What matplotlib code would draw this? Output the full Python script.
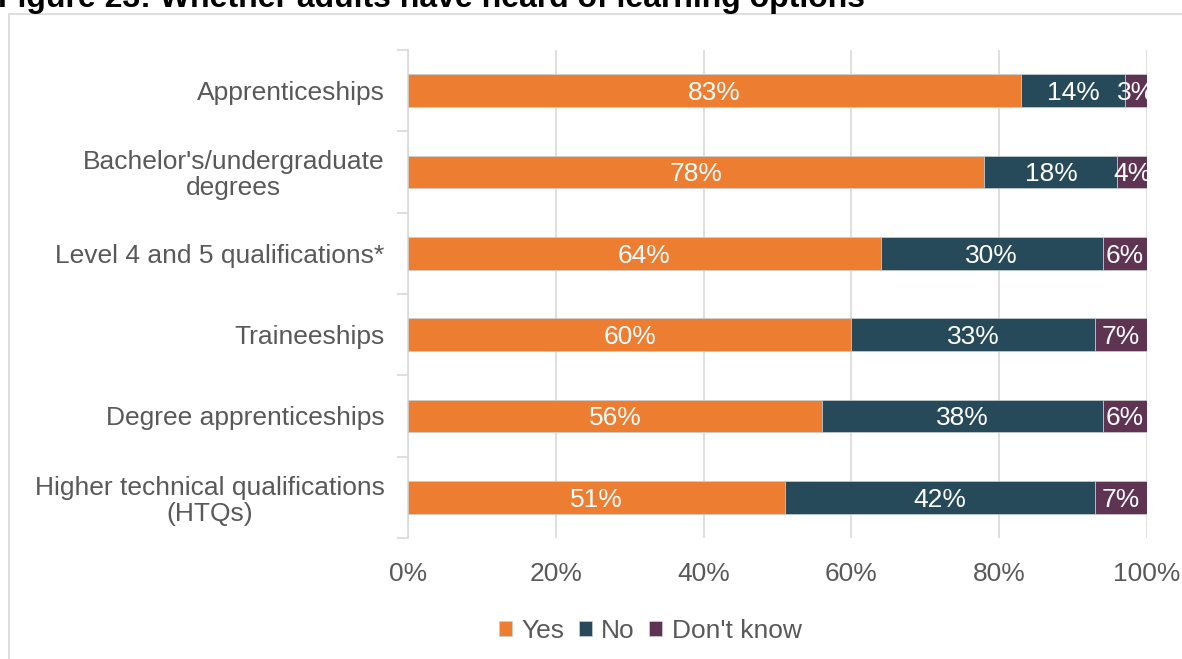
import matplotlib.pyplot as plt
from matplotlib.patches import Rectangle
import numpy as np

plt.rcParams['font.family'] = ['Liberation Sans', 'DejaVu Sans']

# learning options, top to bottom
categories = ["Apprenticeships", "Bachelor's/undergraduate\ndegrees",
              "Level 4 and 5 qualifications*", "Traineeships",
              "Degree apprenticeships", "Higher technical qualifications\n(HTQs)"]
yes = [83, 78, 64, 60, 56, 51]
no = [14, 18, 30, 33, 38, 42]
dont_know = [3, 4, 6, 7, 6, 7]
series_names = ["Yes", "No", "Don't know"]
colors = ["#ED7D31", "#264A59", "#5F3453"]
ticks = [0, 20, 40, 60, 80, 100]

GREY = "#595959"
FS = 19

fig = plt.figure(figsize=(11.82, 6.59), dpi=100)
W, H = 1182, 659

# outer chart frame (runs off the right/bottom edges)
fig.patches.append(Rectangle((9 / W, -0.1), 1.2, 1 - 14 / H + 0.1,
                             transform=fig.transFigure, fill=False,
                             edgecolor="#d9d9d9", lw=1.2))

fig.text(-2 / W, 1 - 7 / H, "Figure 23: Whether adults have heard of learning options",
         fontsize=23, fontweight="bold", color="black", va="baseline", ha="left")

ax = fig.add_axes([408 / W, 1 - 538 / H, (1147 - 408) / W, (538 - 50) / H])

y = np.arange(len(categories))
left = np.zeros(len(categories))
for vals, name, c in zip([yes, no, dont_know], series_names, colors):
    vals = np.array(vals, dtype=float)
    ax.barh(y, vals, left=left, height=0.4, color=c, label=name,
            edgecolor="#c8d0d4", linewidth=0.5, zorder=3)
    for yi, l, v in zip(y, left, vals):
        ax.text(l + v / 2, yi, f"{int(v)}%", ha="center", va="center_baseline",
                color="white", fontsize=FS, zorder=4)
    left += vals

ax.set_xlim(0, 100)
ax.set_ylim(len(categories) - 0.5, -0.5)
ax.set_xticks(ticks)
ax.set_xticklabels([f"{t}%" for t in ticks], fontsize=FS, color=GREY)
ax.set_yticks(y)
ax.set_yticklabels(categories, fontsize=FS, color=GREY, linespacing=1.1)
for lab in ax.get_yticklabels():
    lab.set_multialignment("center")
ax.yaxis.set_tick_params(length=0, pad=17)
ax.set_yticks(np.arange(-0.5, len(categories)), minor=True)
ax.tick_params(axis="y", which="minor", length=8, color="#d9d9d9", width=1.2)
ax.tick_params(axis="x", length=0, pad=17)

ax.grid(axis="x", color="#d9d9d9", lw=1.2, zorder=0)
for s in ["top", "right", "bottom"]:
    ax.spines[s].set_visible(False)
ax.spines["left"].set_color("#d9d9d9")
ax.spines["left"].set_linewidth(1.2)

leg = fig.legend(loc="center", bbox_to_anchor=(650 / W, 1 - 631 / H), ncol=3,
                 frameon=False, fontsize=FS, handlelength=0.5, handleheight=0.5,
                 handletextpad=0.35, columnspacing=0.55, labelcolor=GREY)

fig.savefig("out.png", dpi=100)
